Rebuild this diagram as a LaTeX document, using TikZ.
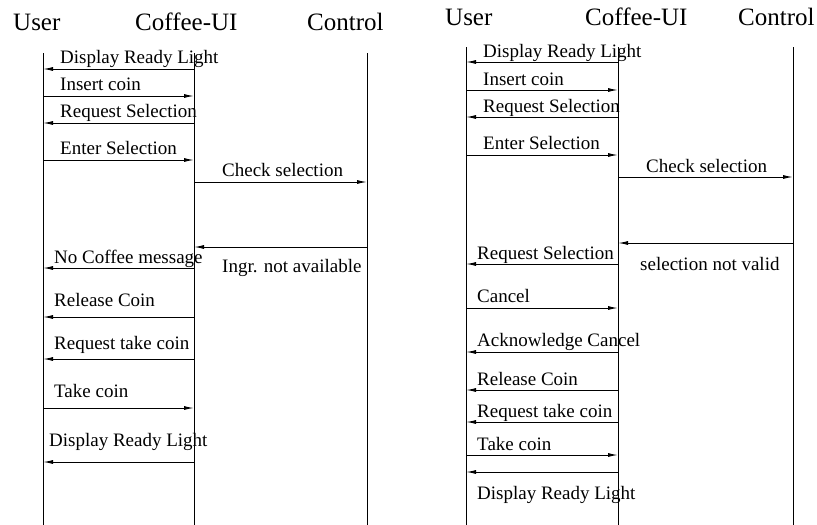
\documentclass[tikz,border=0pt]{standalone}
\usepackage{fontspec}
\setmainfont{Liberation Serif}
\usetikzlibrary{arrows.meta}
\tikzset{>={Latex[length=10pt,width=4pt]}}
\tikzset{
  actor/.style={anchor=base west, inner sep=0pt, font=\fontsize{25}{30}\selectfont},
  msglabel/.style={anchor=base west, inner sep=0pt, font=\fontsize{19}{23}\selectfont},
  lifeline/.style={line width=1pt},
  msg/.style={->, line width=1pt}
}

\begin{document}
\begin{tikzpicture}[x=1pt,y=-1pt]
\useasboundingbox (0,0) rectangle (817,525);

% Left scenario: ingredients not available
\node[actor] (userLname) at (13,30) {User};
\node[actor] (uiLname) at (135,30) {Coffee-UI};
\node[actor] (ctrlLname) at (307,30) {Control};
\coordinate (userL) at (43,53);
\coordinate (uiL) at (194,53);
\coordinate (ctrlL) at (367,53);
\foreach \c in {userL,uiL,ctrlL}
	\draw[lifeline] (\c) -- (\c |- 0,525);

\foreach [count=\i] \y/\a/\b/\lx/\ly/\txt in {
	69/uiL/userL/60/63/Display Ready Light,
	96/userL/uiL/60/90/Insert coin,
	123/uiL/userL/60/117/Request Selection,
	160/userL/uiL/60/154/Enter Selection,
	182/uiL/ctrlL/222/176/Check selection,
	247/ctrlL/uiL/222/272/Ingr. not available,
	268/uiL/userL/54/263/No Coffee message,
	317/uiL/userL/54/306/Release Coin,
	359/uiL/userL/54/349/Request take coin,
	408/userL/uiL/54/397/Take coin,
	462/uiL/userL/49/446/Display Ready Light}
{
	\draw[msg] (\a |- 0,\y) -- (\b |- 0,\y);
	\node[msglabel] (msgL\i) at (\lx,\ly) {\txt};
}

% Right scenario: selection not valid, user cancels
\node[actor] (userRname) at (445,25) {User};
\node[actor] (uiRname) at (585,25) {Coffee-UI};
\node[actor] (ctrlRname) at (738,25) {Control};
\coordinate (userR) at (466,47);
\coordinate (uiR) at (618,47);
\coordinate (ctrlR) at (793,47);
\foreach \c in {userR,uiR,ctrlR}
	\draw[lifeline] (\c) -- (\c |- 0,525);

\foreach [count=\i] \y/\a/\b/\lx/\ly/\txt in {
	62/uiR/userR/483/57/Display Ready Light,
	90/userR/uiR/483/85/Insert coin,
	117/uiR/userR/483/112/Request Selection,
	155/userR/uiR/483/149/Enter Selection,
	177/uiR/ctrlR/646/172/Check selection,
	243/ctrlR/uiR/640/270/selection not valid,
	264/uiR/userR/477/259/Request Selection,
	308/userR/uiR/477/302/Cancel,
	352/uiR/userR/477/346/Acknowledge Cancel,
	390/uiR/userR/477/385/Release Coin,
	422/uiR/userR/477/417/Request take coin,
	455/userR/uiR/477/450/Take coin,
	472/uiR/userR/477/499/Display Ready Light}
{
	\draw[msg] (\a |- 0,\y) -- (\b |- 0,\y);
	\node[msglabel] (msgR\i) at (\lx,\ly) {\txt};
}
\end{tikzpicture}
\end{document}
